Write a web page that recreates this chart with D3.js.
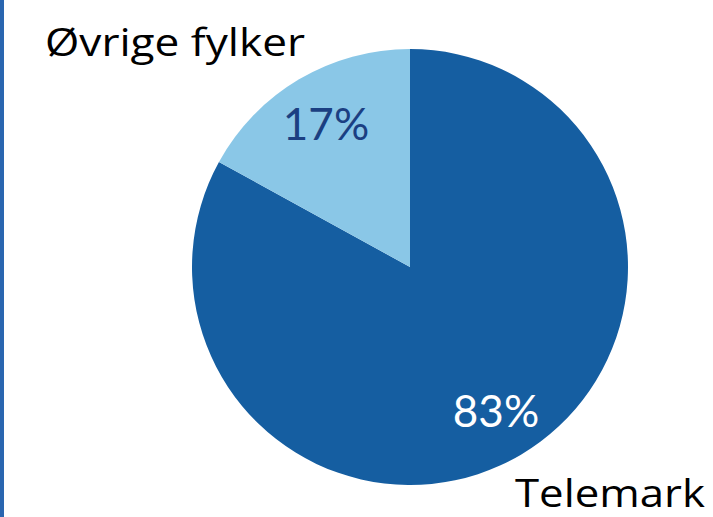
<!DOCTYPE html>
<html><head><meta charset="utf-8">
<script src="https://cdn.jsdelivr.net/npm/d3@7"></script>
<style>body{margin:0;background:#fff}svg{display:block}</style>
</head><body>
<script>
const categories = ["Telemark", "Øvrige fylker"];
const values = [83, 17];
const valueLabels = ["83%", "17%"];
const colors = ["#155ea1", "#8ac7e7"];
const labelColors = ["#ffffff", "#1b3f82"];

const W = 713, H = 517;
const svg = d3.select("body").append("svg").attr("width", W).attr("height", H);
svg.append("rect").attr("x", 0).attr("y", 0).attr("width", 4).attr("height", H).attr("fill", "#2a66b0");

const cx = 410, cy = 267, r = 218;
const g = svg.append("g").attr("transform", `translate(${cx},${cy})`);
const pie = d3.pie().sort(null).value(d => d);
const arcs = pie(values);
const arc = d3.arc().innerRadius(0).outerRadius(r);
g.selectAll("path").data(arcs).join("path")
  .attr("d", arc).attr("fill", (d, i) => colors[i]);

const font = "Lato, 'Open Sans', sans-serif";
const valPos = [[496, 427], [326, 140]];
g.selectAll("text.val").data(arcs).join("text")
  .attr("class", "val")
  .attr("x", (d, i) => valPos[i][0] - cx)
  .attr("y", (d, i) => valPos[i][1] - cy)
  .attr("text-anchor", "middle")
  .attr("font-family", font).attr("font-size", 44)
  .attr("fill", (d, i) => labelColors[i])
  .text((d, i) => valueLabels[i]);

const catPos = [[515, 507, 190], [45, 56, 260]];
svg.selectAll("text.cat").data(categories).join("text")
  .attr("class", "cat")
  .attr("x", (d, i) => catPos[i][0]).attr("y", (d, i) => catPos[i][1])
  .attr("font-family", "'Open Sans', sans-serif").attr("font-size", 38)
  .attr("textLength", (d, i) => catPos[i][2])
  .attr("lengthAdjust", "spacingAndGlyphs")
  .attr("fill", "#000")
  .text(d => d);
</script>
</body></html>
